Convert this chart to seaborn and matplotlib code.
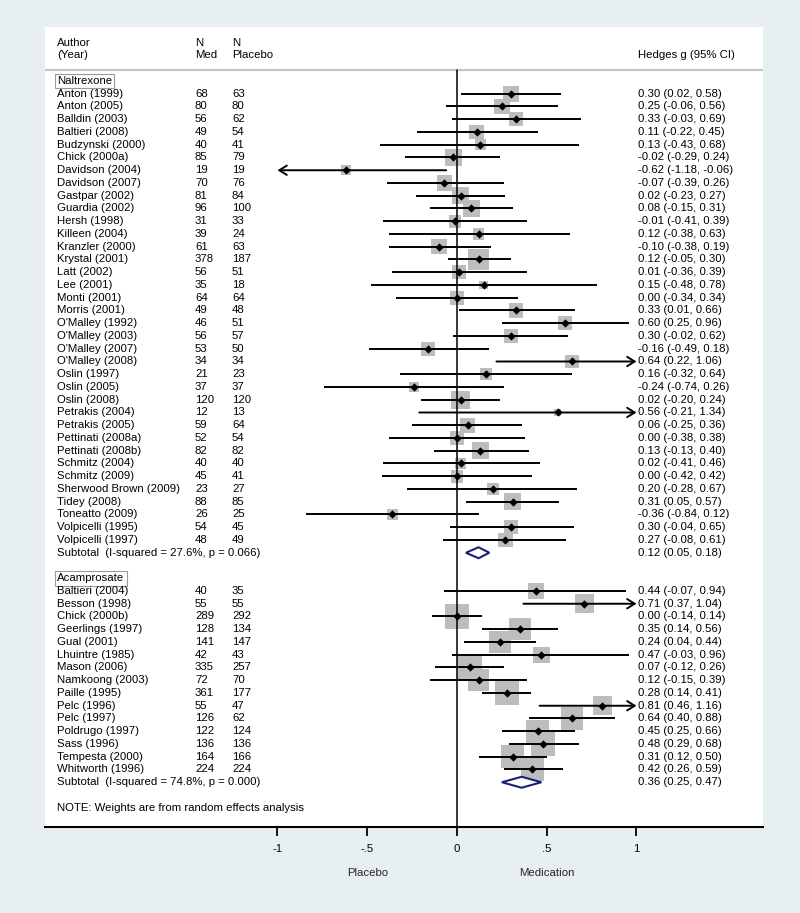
import numpy as np
import pandas as pd
import matplotlib
matplotlib.use("Agg")
import matplotlib.pyplot as plt
import matplotlib.transforms as mtransforms
from matplotlib.patches import Polygon
import seaborn as sns

# ---------------- data ----------------
nal_studies = ["Anton (1999)", "Anton (2005)", "Balldin (2003)", "Baltieri (2008)", "Budzynski (2000)",
               "Chick (2000a)", "Davidson (2004)", "Davidson (2007)", "Gastpar (2002)", "Guardia (2002)",
               "Hersh (1998)", "Killeen (2004)", "Kranzler (2000)", "Krystal (2001)", "Latt (2002)",
               "Lee (2001)", "Monti (2001)", "Morris (2001)", "O'Malley (1992)", "O'Malley (2003)",
               "O'Malley (2007)", "O'Malley (2008)", "Oslin (1997)", "Oslin (2005)", "Oslin (2008)",
               "Petrakis (2004)", "Petrakis (2005)", "Pettinati (2008a)", "Pettinati (2008b)", "Schmitz (2004)",
               "Schmitz (2009)", "Sherwood Brown (2009)", "Tidey (2008)", "Toneatto (2009)", "Volpicelli (1995)",
               "Volpicelli (1997)"]
nal_n_med = [68, 80, 56, 49, 40, 85, 19, 70, 81, 96, 31, 39, 61, 378, 56, 35, 64, 49, 46, 56, 53, 34,
             21, 37, 120, 12, 59, 52, 82, 40, 45, 23, 88, 26, 54, 48]
nal_n_pla = [63, 80, 62, 54, 41, 79, 19, 76, 84, 100, 33, 24, 63, 187, 51, 18, 64, 48, 51, 57, 50, 34,
             23, 37, 120, 13, 64, 54, 82, 40, 41, 27, 85, 25, 45, 49]
nal_es = [0.30, 0.25, 0.33, 0.11, 0.13, -0.02, -0.62, -0.07, 0.02, 0.08, -0.01, 0.12, -0.10, 0.12, 0.01,
          0.15, 0.00, 0.33, 0.60, 0.30, -0.16, 0.64, 0.16, -0.24, 0.02, 0.56, 0.06, 0.00, 0.13, 0.02,
          0.00, 0.20, 0.31, -0.36, 0.30, 0.27]
nal_lo = [0.02, -0.06, -0.03, -0.22, -0.43, -0.29, -1.18, -0.39, -0.23, -0.15, -0.41, -0.38, -0.38, -0.05,
          -0.36, -0.48, -0.34, 0.01, 0.25, -0.02, -0.49, 0.22, -0.32, -0.74, -0.20, -0.21, -0.25, -0.38,
          -0.13, -0.41, -0.42, -0.28, 0.05, -0.84, -0.04, -0.08]
nal_hi = [0.58, 0.56, 0.69, 0.45, 0.68, 0.24, -0.06, 0.26, 0.27, 0.31, 0.39, 0.63, 0.19, 0.30, 0.39,
          0.78, 0.34, 0.66, 0.96, 0.62, 0.18, 1.06, 0.64, 0.26, 0.24, 1.34, 0.36, 0.38, 0.40, 0.46,
          0.42, 0.67, 0.57, 0.12, 0.65, 0.61]
nal_weight = [3.6, 3.3, 2.6, 2.9, 1.6, 3.8, 1.3, 3.3, 4.2, 4.2, 2.2, 1.9, 3.3, 5.8, 2.6, 1.1, 2.9, 2.9,
              2.6, 2.9, 2.9, 2.6, 1.9, 1.6, 4.7, 0.6, 3.3, 2.6, 3.8, 1.9, 2.2, 1.9, 3.8, 1.6, 2.6, 2.9]
nal_subtotal = (0.12, 0.05, 0.18)
nal_het = "Subtotal  (I-squared = 27.6%, p = 0.066)"

aca_studies = ["Baltieri (2004)", "Besson (1998)", "Chick (2000b)", "Geerlings (1997)", "Gual (2001)",
               "Lhuintre (1985)", "Mason (2006)", "Namkoong (2003)", "Paille (1995)", "Pelc (1996)",
               "Pelc (1997)", "Poldrugo (1997)", "Sass (1996)", "Tempesta (2000)", "Whitworth (1996)"]
aca_n_med = [40, 55, 289, 128, 141, 42, 335, 72, 361, 55, 126, 122, 136, 164, 224]
aca_n_pla = [35, 55, 292, 134, 147, 43, 257, 70, 177, 47, 62, 124, 136, 166, 224]
aca_es = [0.44, 0.71, 0.00, 0.35, 0.24, 0.47, 0.07, 0.12, 0.28, 0.81, 0.64, 0.45, 0.48, 0.31, 0.42]
aca_lo = [-0.07, 0.37, -0.14, 0.14, 0.04, -0.03, -0.12, -0.15, 0.14, 0.46, 0.40, 0.25, 0.29, 0.12, 0.26]
aca_hi = [0.94, 1.04, 0.14, 0.56, 0.44, 0.96, 0.26, 0.39, 0.41, 1.16, 0.88, 0.66, 0.68, 0.50, 0.59]
aca_weight = [3.7, 5.2, 8.3, 7.0, 7.0, 3.7, 8.3, 6.4, 8.3, 5.2, 7.0, 7.6, 7.6, 7.6, 7.0]
aca_subtotal = (0.36, 0.25, 0.47)
aca_het = "Subtotal  (I-squared = 74.8%, p = 0.000)"

groups = ["Naltrexone", "Acamprosate"]
x_ticks = [-1, -0.5, 0, 0.5, 1]
x_ticklabels = ["-1", "-.5", "0", ".5", "1"]
note_text = "NOTE: Weights are from random effects analysis"

# ---------------- style ----------------
BG = "#e8eff1"
BOX = "#bdbdbd"
NAVY = "#1a1f78"
sns.set_theme(style="white")
plt.rcParams['font.family'] = ['Liberation Sans', 'DejaVu Sans']
FS = 8.2

# ---------------- layout of rows ----------------
r = 0
group_rows = []
sub_rows = []
study_rows = []
for g, studies in zip(groups, [nal_studies, aca_studies]):
    group_rows.append(r)
    r += 1
    sr = list(range(r, r + len(studies)))
    study_rows.append(sr)
    r += len(studies)
    sub_rows.append(r)
    r += 2
note_row = r

df = pd.DataFrame({
    "study": nal_studies + aca_studies,
    "n_med": nal_n_med + aca_n_med,
    "n_pla": nal_n_pla + aca_n_pla,
    "es": nal_es + aca_es,
    "lo": nal_lo + aca_lo,
    "hi": nal_hi + aca_hi,
    "w": nal_weight + aca_weight,
    "row": study_rows[0] + study_rows[1],
})

fig = plt.figure(figsize=(8, 9.13), dpi=100, facecolor=BG)
ax = fig.add_axes([45 / 800, 86 / 913, 718 / 800, 800 / 913])
ax.set_facecolor("white")

# grey weight boxes (area proportional to weight)
K2 = (8.5 * 0.72) ** 2
wmax = df["w"].max()
sns.scatterplot(data=df, x="es", y="row", size="w", sizes=(0, K2 * wmax), size_norm=(0, wmax),
                marker="s", color=BOX, linewidth=0, legend=False, ax=ax, zorder=1)

# CI lines (clipped at -1 / 1 with arrows)
arrow_style = "->,head_length=0.45,head_width=0.28"
for _, d in df.iterrows():
    lo_c, hi_c = max(d.lo, -1), min(d.hi, 1)
    y = d.row
    if d.lo < -1:
        ax.annotate("", xy=(-1, y), xytext=(hi_c, y),
                    arrowprops=dict(arrowstyle=arrow_style, lw=1.4,
                                    color="black", shrinkA=0, shrinkB=0), zorder=3)
    elif d.hi > 1:
        ax.annotate("", xy=(1, y), xytext=(lo_c, y),
                    arrowprops=dict(arrowstyle=arrow_style, lw=1.4,
                                    color="black", shrinkA=0, shrinkB=0), zorder=3)
    else:
        ax.plot([lo_c, hi_c], [y, y], color="black", lw=1.4, solid_capstyle="butt", zorder=3)

# point estimates
sns.scatterplot(data=df, x="es", y="row", marker="D", color="black", s=18, linewidth=0,
                legend=False, ax=ax, zorder=4)

# subtotal diamonds
h = 0.43
for (es, lo, hi), yr in zip([nal_subtotal, aca_subtotal], sub_rows):
    poly = Polygon([(lo, yr), (es, yr - h), (hi, yr), (es, yr + h)], closed=True,
                   facecolor="white", edgecolor=NAVY, lw=1.5, zorder=5)
    ax.add_patch(poly)

ylim_top, ylim_bot = -4.235, 58.51
sep_y = -0.86
ax.set_xlim(-2.295, 1.7047)
ax.set_ylim(ylim_bot, ylim_top)

# zero line and header separator
ax.plot([0, 0], [sep_y, ylim_bot], color="black", lw=1.1, zorder=3.5)
ax.plot([-2.295, 1.7047], [sep_y, sep_y], color="#c8c8c8", lw=1.6, zorder=2)

# ---------------- text columns ----------------
tr = mtransforms.blended_transform_factory(ax.transAxes, ax.transData)
cx_author, cx_med, cx_pla, cx_es = 0.0167, 0.2089, 0.2604, 0.8259
kw = dict(transform=tr, fontsize=FS, va="center", ha="left", color="black")

ax.text(cx_author, -3, "Author", **kw)
ax.text(cx_author, -2, "(Year)", **kw)
ax.text(cx_med, -3, "N", **kw)
ax.text(cx_med, -2, "Med", **kw)
ax.text(cx_pla, -3, "N", **kw)
ax.text(cx_pla, -2, "Placebo", **kw)
ax.text(cx_es, -2, "Hedges g (95% CI)", **kw)

for g, gr in zip(groups, group_rows):
    ax.text(cx_author, gr, g, bbox=dict(boxstyle="square,pad=0.2", fc="white", ec="#9a9a9a", lw=0.8), **kw)

for _, d in df.iterrows():
    ax.text(cx_author, d.row, d.study, **kw)
    ax.text(cx_med, d.row, str(d.n_med), **kw)
    ax.text(cx_pla, d.row, str(d.n_pla), **kw)
    ax.text(cx_es, d.row, f"{d.es:.2f} ({d.lo:.2f}, {d.hi:.2f})", **kw)

for (es, lo, hi), het, yr in zip([nal_subtotal, aca_subtotal], [nal_het, aca_het], sub_rows):
    ax.text(cx_author, yr, het, **kw)
    ax.text(cx_es, yr, f"{es:.2f} ({lo:.2f}, {hi:.2f})", **kw)

ax.text(cx_author, note_row, note_text, **kw)

# ---------------- axis ----------------
for s in ["top", "left", "right"]:
    ax.spines[s].set_visible(False)
ax.spines["bottom"].set_linewidth(1.5)
ax.spines["bottom"].set_color("black")
ax.set_yticks([])
ax.set_xticks(x_ticks)
ax.set_xticklabels(x_ticklabels)
ax.tick_params(axis="x", direction="out", length=6.5, width=1.3, pad=6, labelsize=FS,
               colors="black", bottom=True)
ax.set_xlabel("")
ax.set_ylabel("")

trf = mtransforms.blended_transform_factory(ax.transData, fig.transFigure)
ax.text(-0.5, (913 - 873) / 913, "Placebo", transform=trf, fontsize=FS, ha="center", va="center")
ax.text(0.5, (913 - 873) / 913, "Medication", transform=trf, fontsize=FS, ha="center", va="center")

fig.savefig("out.png", dpi=100, facecolor=BG)
